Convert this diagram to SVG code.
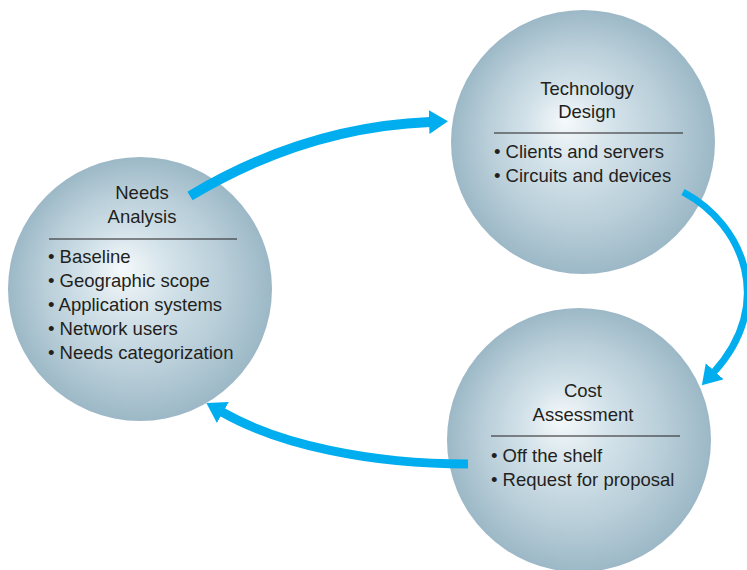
<svg xmlns="http://www.w3.org/2000/svg" width="747" height="570" viewBox="0 0 747 570">
  <style>
    .title { font-family: "Liberation Sans", Arial, sans-serif; font-size: 18.5px; fill: #231f20; text-anchor: middle; }
    .item { font-family: "Liberation Sans", Arial, sans-serif; font-size: 18.5px; fill: #231f20; }
    .rule { stroke: #231f20; stroke-width: 1.2; }
    .sphere { fill: url(#sphereGrad); }
    .arrow { fill: none; stroke: #00aeef; stroke-linecap: butt; }
  </style>
  <defs>
    <radialGradient id="sphereGrad" cx="0.5" cy="0.5" r="0.5" fx="0.43" fy="0.42">
      <stop offset="0" stop-color="#f5f9fb"/>
      <stop offset="0.3" stop-color="#d6e4eb"/>
      <stop offset="0.7" stop-color="#b7cdd8"/>
      <stop offset="1" stop-color="#9cb8c6"/>
    </radialGradient>
    <marker id="head" markerUnits="userSpaceOnUse" markerWidth="20" markerHeight="24" refX="1" refY="12" orient="auto" viewBox="0 0 20 24">
      <path d="M0,0 L19,12 L0,24 Z" fill="#00aeef"/>
    </marker>
  </defs>

  <g id="needs-analysis">
    <circle class="sphere" cx="140" cy="289" r="132"/>
    <text class="title" x="142" y="199">Needs</text>
    <text class="title" x="142" y="223">Analysis</text>
    <line class="rule" x1="49" y1="239" x2="237" y2="239"/>
    <text class="item" x="48" y="263">• Baseline</text>
    <text class="item" x="48" y="287">• Geographic scope</text>
    <text class="item" x="48" y="311">• Application systems</text>
    <text class="item" x="48" y="335">• Network users</text>
    <text class="item" x="48" y="359">• Needs categorization</text>
  </g>

  <g id="technology-design">
    <circle class="sphere" cx="583" cy="142" r="132"/>
    <text class="title" x="587" y="95">Technology</text>
    <text class="title" x="587" y="118">Design</text>
    <line class="rule" x1="494" y1="133" x2="683" y2="133"/>
    <text class="item" x="494" y="158">• Clients and servers</text>
    <text class="item" x="494" y="182">• Circuits and devices</text>
  </g>

  <g id="cost-assessment">
    <circle class="sphere" cx="579" cy="440" r="132"/>
    <text class="title" x="583" y="397">Cost</text>
    <text class="title" x="583" y="421">Assessment</text>
    <line class="rule" x1="491" y1="436" x2="680" y2="436"/>
    <text class="item" x="491" y="462">• Off the shelf</text>
    <text class="item" x="491" y="486">• Request for proposal</text>
  </g>

  <g id="connectors">
    <path class="arrow" stroke-width="10" d="M190,196 C250,160 330,126 430,122" marker-end="url(#head)"/>
    <path class="arrow" stroke-width="7" d="M683,192 C745,225 775,305 714,372" marker-end="url(#head)"/>
    <path class="arrow" stroke-width="9" d="M468,464 C370,464 280,445 222,412" marker-end="url(#head)"/>
  </g>
</svg>
